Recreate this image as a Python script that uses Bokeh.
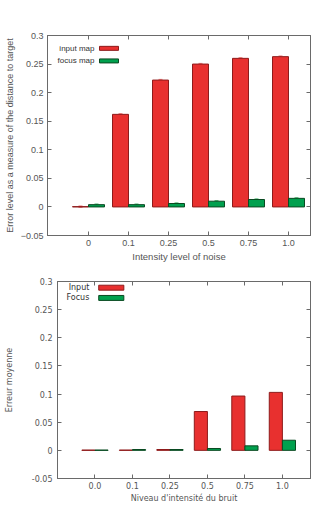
import numpy as np
from bokeh.plotting import figure
from bokeh.layouts import column
from bokeh.models import (ColumnDataSource, FixedTicker, LinearAxis, Range1d,
                          Whisker, TeeHead, BoxAnnotation)
from bokeh.core.properties import value
from bokeh.embed import file_html
from bokeh.resources import INLINE

# ---------------- data ----------------
top_categories = ["0", "0.1", "0.25", "0.5", "0.75", "1.0"]
top_input = [0.0005, 0.162, 0.222, 0.250, 0.260, 0.263]
top_focus = [0.004, 0.004, 0.006, 0.010, 0.013, 0.015]
top_input_err = [0.0012, 0.0012, 0.0012, 0.0012, 0.0012, 0.0012]
top_focus_err = [0.0012, 0.0012, 0.0012, 0.0012, 0.0012, 0.0012]
top_series = ["input map", "focus map"]
top_yticks = [-0.05, 0, 0.05, 0.1, 0.15, 0.2, 0.25, 0.3]
top_ytick_labels = ["\u22120.05", "0", "0.05", "0.1", "0.15", "0.2", "0.25", "0.3"]

bot_categories = ["0.0", "0.1", "0.25", "0.5", "0.75", "1.0"]
bot_input = [0.0005, 0.0005, 0.0015, 0.069, 0.0965, 0.103]
bot_focus = [0.0005, 0.0015, 0.0015, 0.0033, 0.008, 0.018]
bot_series = ["Input", "Focus"]
bot_yticks = [-0.05, 0, 0.05, 0.1, 0.15, 0.2, 0.25, 0.3]
bot_ytick_labels = ["-0.05", "0", "0.05", "0.1", "0.15", "0.2", "0.25", "0.3"]

RED = "#e8302f"
RED_LINE = "#8e1b1b"
GREEN = "#00a04e"
GREEN_LINE = "#0a4a22"
AXIS = "#6a6a6a"
TEXT = "#555555"
FRAME_BG = "#e8e8f8"


def style(p, font, tick_size, label_size, yticks, ylabels, ncat, xlabels):
    idx = list(range(ncat))
    xt = FixedTicker(ticks=idx)
    yt = FixedTicker(ticks=yticks)
    bx = p.below[0]
    ly = p.left[0]
    bx.ticker = xt
    ly.ticker = yt
    bx.major_label_overrides = {i: l for i, l in zip(idx, xlabels)}
    ly.major_label_overrides = {t: l for t, l in zip(yticks, ylabels)}
    # mirror axes (ticks only)
    ab = LinearAxis(ticker=xt, major_label_overrides={i: "" for i in idx},
                    major_label_standoff=0)
    rt = LinearAxis(ticker=yt, major_label_overrides={t: "" for t in yticks},
                    major_label_standoff=0)
    p.add_layout(ab, "above")
    p.add_layout(rt, "right")
    for ax in (bx, ly, ab, rt):
        ax.major_tick_in = 4
        ax.major_tick_out = 0
        ax.minor_tick_line_color = None
        ax.axis_line_color = AXIS
        ax.major_tick_line_color = AXIS
        ax.major_label_text_font = font
        ax.axis_label_text_font = font
        ax.major_label_text_color = TEXT
        ax.axis_label_text_color = TEXT
        ax.axis_label_text_font_style = "normal"
        ax.axis_label_text_font_size = label_size
        ax.major_label_text_font_size = tick_size
    ab.major_label_text_font_size = "1px"
    rt.major_label_text_font_size = "1px"
    p.xgrid.visible = False
    p.ygrid.visible = False
    p.outline_line_color = AXIS
    p.background_fill_color = "white"
    p.border_fill_color = "white"
    return bx, ly


# ---------------- top chart ----------------
n = len(top_categories)
x = np.arange(n)
src_t = ColumnDataSource(dict(
    xi=x - 0.2, xf=x + 0.2,
    inp=top_input, foc=top_focus,
    inp_u=np.array(top_input) + np.array(top_input_err),
    inp_l=np.array(top_input) - np.array(top_input_err),
    foc_u=np.array(top_focus) + np.array(top_focus_err),
    foc_l=np.array(top_focus) - np.array(top_focus_err),
))

p1 = figure(width=311, height=264, output_backend="svg", toolbar_location=None,
            x_range=Range1d(-1.025, 5.55), y_range=Range1d(-0.05, 0.3),
            min_border_left=47, min_border_right=1, min_border_top=35,
            min_border_bottom=27, frame_align=False)
p1.vbar(x="xi", width=0.4, top="inp", bottom=0, source=src_t,
        fill_color=RED, line_color=RED_LINE, line_width=1)
p1.vbar(x="xf", width=0.4, top="foc", bottom=0, source=src_t,
        fill_color=GREEN, line_color=GREEN_LINE, line_width=1)
p1.add_layout(Whisker(source=src_t, base="xi", upper="inp_u", lower="inp_l",
                      line_color="#f08080", line_width=1,
                      upper_head=TeeHead(size=4, line_color="#f08080"),
                      lower_head=TeeHead(size=4, line_color="#f08080")))
p1.add_layout(Whisker(source=src_t, base="xf", upper="foc_u", lower="foc_l",
                      line_color="#60c080", line_width=1,
                      upper_head=TeeHead(size=4, line_color="#60c080"),
                      lower_head=TeeHead(size=4, line_color="#60c080")))
bx1, ly1 = style(p1, "Liberation Sans", "9px", "9px", top_yticks, top_ytick_labels,
                 n, top_categories)
bx1.axis_label = "Intensity level of noise"
ly1.axis_label = "Error level as a measure of the distance to target"
bx1.axis_label_text_font_size = "9.5px"
bx1.major_label_standoff = 4
bx1.axis_label_standoff = 2
ly1.major_label_standoff = 4
ly1.axis_label_standoff = 3

leg_t = ColumnDataSource(dict(tx=[0.15, 0.15], ty=[0.2775, 0.2555], txt=top_series,
                              l=[0.275, 0.275], r=[0.75, 0.75],
                              b=[0.2775 - 0.0035, 0.2555 - 0.0035],
                              t=[0.2775 + 0.0035, 0.2555 + 0.0035],
                              fc=[RED, GREEN], lc=[RED_LINE, GREEN_LINE]))
p1.text(x="tx", y="ty", text="txt", source=leg_t, text_align="right",
        text_baseline="middle", text_font=value("Liberation Sans"),
        text_font_size="8px", text_color="#333333")
p1.quad(left="l", right="r", bottom="b", top="t", source=leg_t,
        fill_color="fc", line_color="lc", line_width=1)

# page-frame strips (top and left) of the original screenshot
p1.add_layout(BoxAnnotation(left=0, right=311, top=0, bottom=5,
                            left_units="canvas", right_units="canvas",
                            top_units="canvas", bottom_units="canvas",
                            fill_color=FRAME_BG, fill_alpha=1.0, line_color=None))
p1.add_layout(BoxAnnotation(left=0, right=4, top=0, bottom=264,
                            left_units="canvas", right_units="canvas",
                            top_units="canvas", bottom_units="canvas",
                            fill_color=FRAME_BG, fill_alpha=1.0, line_color=None))

# ---------------- bottom chart ----------------
m = len(bot_categories)
x2 = np.arange(m)
src_b = ColumnDataSource(dict(xi=x2 - 0.175, xf=x2 + 0.175, inp=bot_input, foc=bot_focus))
p2 = figure(width=311, height=241, output_backend="svg", toolbar_location=None,
            x_range=Range1d(-1, 5.75), y_range=Range1d(-0.05, 0.3),
            min_border_left=57, min_border_right=1, min_border_top=17,
            min_border_bottom=24, frame_align=False)
p2.vbar(x="xi", width=0.35, top="inp", bottom=0, source=src_b,
        fill_color=RED, line_color=RED_LINE, line_width=1)
p2.vbar(x="xf", width=0.35, top="foc", bottom=0, source=src_b,
        fill_color=GREEN, line_color=GREEN_LINE, line_width=1)
bx2, ly2 = style(p2, "DejaVu Sans", "8px", "8px", bot_yticks, bot_ytick_labels,
                 m, bot_categories)
bx2.axis_label = "Niveau d'intensit\u00e9 du bruit"
ly2.axis_label = "Erreur moyenne"
bx2.major_label_standoff = 3
bx2.axis_label_standoff = 2
ly2.major_label_standoff = 5
ly2.axis_label_standoff = 15

leg_b = ColumnDataSource(dict(tx=[-0.15, -0.15], ty=[0.289, 0.2708], txt=bot_series,
                              l=[0.1, 0.1], r=[0.77, 0.77],
                              b=[0.289 - 0.0044, 0.2708 - 0.0044],
                              t=[0.289 + 0.0044, 0.2708 + 0.0044],
                              fc=[RED, GREEN], lc=[RED_LINE, GREEN_LINE]))
p2.text(x="tx", y="ty", text="txt", source=leg_b, text_align="right",
        text_baseline="middle", text_font=value("DejaVu Sans"),
        text_font_size="8px", text_color="#333333")
p2.quad(left="l", right="r", bottom="b", top="t", source=leg_b,
        fill_color="fc", line_color="lc", line_width=1)
p2.add_layout(BoxAnnotation(left=0, right=4, top=0, bottom=241,
                            left_units="canvas", right_units="canvas",
                            top_units="canvas", bottom_units="canvas",
                            fill_color=FRAME_BG, fill_alpha=1.0, line_color=None))

layout = column(p1, p2, spacing=0)
open("out.html", "w").write(file_html(layout, INLINE))
